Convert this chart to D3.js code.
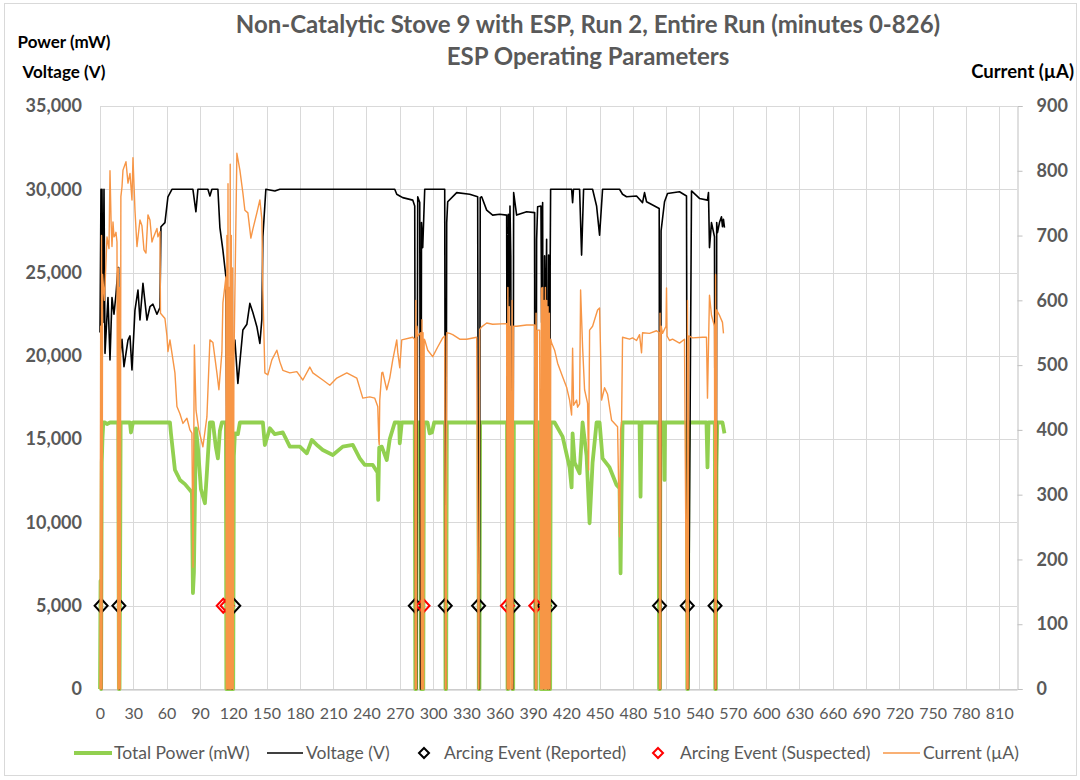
<!DOCTYPE html>
<html>
<head>
<meta charset="utf-8">
<script src="https://cdn.jsdelivr.net/npm/d3@7"></script>
<style>
  body { margin: 0; background: #fff; }
  svg { font-family: Lato, "Open Sans", sans-serif; }
</style>
</head>
<body>
<svg id="chart" width="1080" height="780"></svg>
<script>
// minutes, mW
var powerData = [
  [0, 0], [0.5, 6500], [1, 0], [1.6, 13600], [2.2, 15000], [3, 16000], [4.5, 16000], [6.3, 15900], [9, 16000],
  [16.5, 16000], [17, 0], [17.6, 0], [18.2, 8300], [18.6, 16000], [27, 16000], [27.9, 15400], [29.7, 16000],
  [63, 16000], [63.9, 15350], [67.5, 13150], [70.2, 12800], [72, 12550], [76.5, 12300], [81, 11950], [82.8, 11800],
  [83.7, 5760], [84.6, 7000], [86.4, 15650], [88.2, 14500], [90.9, 12000], [94.5, 11150], [96.3, 13000], [99, 16000],
  [101.7, 16000], [104.4, 14500], [106.2, 13850], [108, 15500], [109.8, 16000], [113.4, 16000],
  [113.8, 0], [114.5, 0], [115, 12000], [115.5, 0], [116.5, 0], [117, 14000], [117.5, 0], [119, 0], [119.6, 5000],
  [120, 0], [120.6, 14000], [121.5, 15350], [124.2, 15300], [126, 16000], [146.7, 16000], [148.5, 14650],
  [153, 15650], [157.5, 15300], [164.7, 15400], [171, 14550], [180, 14550], [186.3, 14150], [190.8, 14950],
  [196.2, 14600], [200.7, 14350], [209.7, 14050], [218.7, 14550], [227.7, 14650], [234, 13850], [238.5, 13450],
  [245.7, 13450], [250, 13000], [250.6, 11350], [251.5, 14500], [253.8, 14550], [258.3, 13750], [261, 15000],
  [265.5, 16000], [269.5, 16000], [270, 14750], [271.8, 16000], [283.5, 16000], [284, 0], [284.8, 0], [285.4, 16000],
  [288.6, 16000], [289.2, 0], [290, 0], [290.6, 10000], [291.2, 0], [291.8, 16000], [295, 16000], [297, 15350],
  [299, 15400], [301, 16000], [310.8, 16000], [311.2, 0], [311.8, 0], [312.4, 16000], [340.8, 16000], [341.2, 0],
  [341.8, 0], [342.4, 16000], [366.6, 16000], [367.1, 0], [367.7, 0], [368.2, 16000], [371.2, 16000], [371.6, 0],
  [372.2, 0], [372.8, 16000], [391.8, 16000], [392.3, 0], [393, 0], [393.5, 16000], [396.5, 16000], [397, 0],
  [398, 13000], [399, 0], [400.5, 0], [401, 16000], [402, 0], [403, 15000], [404, 0], [405.5, 0], [406, 16000],
  [409.5, 16000], [416.7, 15150], [423, 13300], [424.8, 12100], [425.7, 15350], [427.5, 13600], [432, 12950],
  [434.7, 16000], [438.3, 14000], [441, 9950], [443.7, 13600], [447.3, 16000], [450, 16000], [452.7, 13850],
  [459, 13300], [465.3, 12250], [468, 12050], [468.9, 6950], [469.8, 12000], [470.7, 16000], [486, 16000],
  [486.9, 11550], [487.8, 16000], [503.1, 16000], [503.6, 0], [504.3, 0], [504.8, 16000], [508, 16000],
  [508.5, 12550], [509, 16000], [528.6, 16000], [529, 0], [529.6, 0], [530, 14000], [530.6, 16000],
  [546.3, 16000], [547.2, 13300], [548.1, 16000], [553.8, 16000], [554.2, 0], [554.8, 0], [555.3, 13300],
  [556, 16000], [560.7, 16000], [562.5, 15350]
];

// minutes, V
var voltageData = [
  [0, 21400], [0.9, 30000], [1.35, 0], [1.8, 30000], [2.7, 22000], [3.6, 30000], [4.5, 20150], [7.2, 23500],
  [9, 19750], [10.8, 23500], [12.6, 22500], [14.4, 23700], [16.2, 25300], [16.8, 25300], [17.1, 0], [17.5, 0],
  [18, 20000], [19.8, 21000], [21.6, 19350], [25.2, 20950], [27, 21200], [28.8, 19150], [31.5, 22750],
  [34.2, 23950], [36, 22150], [38.7, 24350], [42.3, 22150], [45, 22950], [47.7, 23100], [51.3, 22500],
  [54, 22900], [54.9, 27750], [58.5, 28000], [61.2, 29550], [64.8, 30000], [83.7, 30000], [86.4, 28650],
  [88.2, 30000], [97.2, 30000], [99, 29600], [100.8, 30000], [106.2, 30000], [108, 27700], [110.7, 26350],
  [113.4, 24750], [114, 17000], [114.5, 0], [115, 20000], [115.5, 0], [116, 16000], [116.5, 14500], [117, 0],
  [117.5, 22000], [118, 18000], [118.6, 0], [119.2, 0], [119.8, 20000], [121.5, 20950], [124.2, 18350],
  [128.7, 21550], [132.3, 21900], [135, 23150], [137.7, 22600], [141.3, 21750], [144, 20750], [145.8, 22200],
  [146.7, 27150], [149.4, 30000], [157.5, 29900], [162, 30000], [180, 30000], [216, 30000], [252, 30000],
  [265.5, 30000], [267.3, 29700], [270, 29600], [272.7, 29500], [281.7, 29350], [283.5, 29000], [284.4, 0],
  [285.1, 0], [286.2, 29550], [288, 29200], [288.9, 0], [289.6, 28000], [290.7, 26500], [292.5, 30000],
  [310.5, 30000], [311.4, 0], [312.3, 28000], [313.2, 29250], [321.3, 29800], [333, 29700], [340.2, 29550],
  [341.1, 0], [341.7, 0], [342.5, 29500], [343.8, 29550], [348.3, 28750], [353.7, 28450], [360, 28500],
  [366.3, 28450], [367.2, 0], [367.8, 28500], [368.5, 23000], [369.3, 29000], [370, 26000], [371, 0],
  [371.8, 0], [372.6, 29800], [375.3, 28450], [384.3, 28650], [391.5, 28600], [392.4, 0], [393.3, 27000],
  [394.2, 28950], [397.2, 29000], [397.8, 22000], [398.7, 29200], [399.6, 0], [400.5, 26000], [401.4, 20000],
  [402.3, 27000], [403.2, 0], [404.1, 26050], [405, 0], [405.5, 25500], [405.9, 30000], [424.8, 30000],
  [425.7, 29200], [426.5, 30000], [432, 30000], [433.8, 26050], [435.6, 30000], [443.7, 30000], [447.3, 29000],
  [450, 27250], [452.7, 30000], [468, 30000], [470.7, 29700], [474.3, 29550], [483.3, 29600], [488.7, 29200],
  [490.5, 29800], [492.3, 29250], [499.5, 29000], [503.7, 28850], [504.2, 0], [504.8, 0], [505.4, 27500],
  [508.5, 29250], [511.2, 29750], [522, 29850], [528.3, 29600], [529.2, 0], [530, 0], [532.8, 29900],
  [540, 29450], [547.2, 29350], [548.1, 29800], [549, 26500], [550.8, 28000], [553.5, 27150], [554.4, 0],
  [555, 0], [555.5, 28000], [556.2, 27400], [558, 28000], [559.8, 28350], [560.7, 27750], [561.6, 28200],
  [562.5, 27700]
];

// minutes, µA
var currentData = [
  [0, 0], [0.6, 560], [1, 0], [1.4, 700], [1.8, 0], [2.3, 640], [4, 600], [6.3, 698], [8.1, 680], [9, 800],
  [10, 720], [10.8, 683], [11.7, 721], [12.6, 698], [13.5, 700], [14.4, 705], [15.3, 690], [16.2, 0],
  [16.6, 650], [17.1, 0], [17.6, 620], [18.2, 0], [18.8, 760], [19.8, 775], [20.7, 801], [23.4, 814],
  [25.2, 781], [27, 796], [28.8, 755], [29.7, 820], [31.5, 739], [33.3, 683], [36, 724], [37.8, 715],
  [39.6, 678], [41.4, 673], [43.2, 732], [45, 724], [46.8, 690], [47.7, 695], [51.3, 711], [52.2, 698],
  [54, 706], [54.5, 580], [58.5, 572], [60.3, 545], [61.2, 521], [63, 539], [67.5, 488], [69.3, 436],
  [72, 425], [74.7, 410], [78.3, 418], [81, 400], [82.8, 395], [83.8, 188], [85, 531], [86.5, 430],
  [89, 400], [92.7, 374], [96.3, 420], [99, 539], [101.7, 535], [105.3, 488], [107.1, 462], [109.8, 520],
  [110.7, 596], [113.4, 636], [113.8, 0], [114.3, 700], [114.8, 0], [115.3, 780], [115.8, 0], [116.3, 620],
  [116.8, 0], [117.3, 810], [117.8, 0], [118.3, 700], [118.8, 0], [119.5, 650], [120, 0], [120.6, 500],
  [123.3, 827], [126, 801], [128.7, 766], [130.5, 739], [133.2, 735], [135.9, 696], [137.7, 710],
  [141.3, 735], [144, 755], [145.8, 725], [146.7, 616], [148.5, 488], [151.2, 485], [154.8, 508],
  [159.3, 523], [162, 505], [164.7, 492], [171, 488], [177.3, 490], [182.7, 477], [189, 497], [191.7, 488],
  [200.7, 477], [207, 469], [213.3, 480], [222.3, 488], [231.3, 480], [236.7, 449], [243, 451], [247.5, 449],
  [250.2, 436], [251.1, 384], [251.5, 377], [252, 446], [253.8, 488], [254.7, 489], [258.3, 462], [261, 480],
  [263.7, 508], [267.3, 539], [268.2, 520], [270, 496], [271.8, 539], [281.7, 543], [283.5, 540], [284, 0],
  [284.5, 600], [285, 0], [285.5, 560], [286.2, 545], [288.9, 550], [289.5, 0], [290, 570], [290.5, 0],
  [291, 550], [291.5, 0], [292, 540], [292.5, 539], [295.2, 523], [299.7, 513], [304.2, 528], [308.7, 542],
  [310.5, 545], [311.2, 0], [311.8, 0], [312.4, 550], [315, 549], [317.7, 547], [324, 540], [330.3, 540],
  [339.3, 543], [340.8, 0], [341.4, 0], [342, 555], [343.8, 559], [348.3, 565], [353.7, 563], [366.3, 564],
  [366.8, 0], [367.4, 620], [367.9, 0], [368.5, 590], [369, 0], [369.6, 560], [370.5, 0], [371.2, 600],
  [371.8, 0], [372.5, 560], [375.3, 560], [384.3, 562], [391.5, 562], [392.2, 0], [392.8, 580], [393.4, 0],
  [394, 554], [396, 554], [397, 0], [397.6, 619], [398.2, 0], [398.8, 620], [399.4, 0], [400, 600],
  [400.6, 0], [401.2, 620], [401.8, 0], [402.4, 600], [403, 0], [403.6, 590], [404.2, 0], [404.8, 580],
  [405.4, 0], [406, 540], [406.8, 534], [409.5, 523], [412.2, 503], [416.7, 482], [420.3, 466], [423, 446],
  [424.8, 423], [425.7, 526], [426.6, 438], [429.3, 446], [430.2, 435], [432, 440], [432.9, 616], [434.7, 528],
  [436.5, 462], [439.2, 441], [440.1, 338], [441, 554], [443.7, 560], [445.5, 570], [448.2, 585], [450, 588],
  [450.9, 520], [451.8, 446], [454.5, 465], [457.2, 455], [460.8, 415], [463.5, 410], [466.2, 405], [468, 235],
  [468.9, 400], [469.8, 410], [470.7, 543], [477, 540], [479.7, 542], [483.3, 538], [486, 547], [487.8, 519],
  [488.7, 550], [495, 549], [501.3, 553], [503.6, 550], [504, 0], [504.5, 580], [505, 0], [505.5, 560],
  [506.7, 549], [509.8, 560], [510.3, 619], [510.8, 545], [513, 538], [515.7, 540], [522, 534], [526.5, 540],
  [528.6, 0], [529.2, 600], [529.8, 0], [530.4, 545], [533.7, 542], [542.7, 543], [546.3, 543], [547.2, 449],
  [549, 608], [550.8, 577], [553.5, 560], [554, 0], [554.5, 640], [555, 0], [555.5, 585], [558, 577],
  [560.7, 566], [561.6, 549]
];

var reportedEvents = [1, 17, 120.5, 284, 311, 341, 372, 400, 405, 504, 529, 554];
var suspectedEvents = [111, 114.5, 291, 367, 392.5];
var eventLevel = 5000;

var xTicks = [0, 30, 60, 90, 120, 150, 180, 210, 240, 270, 300, 330, 360, 390, 420, 450, 480, 510, 540, 570, 600, 630, 660, 690, 720, 750, 780, 810];
var leftTicks = [0, 5000, 10000, 15000, 20000, 25000, 30000, 35000];
var rightTicks = [0, 100, 200, 300, 400, 500, 600, 700, 800, 900];

var svg = d3.select("#chart");
var plotLeft = 100, plotRight = 1017, plotTop = 106, plotBottom = 689;

var x = d3.scaleLinear().domain([0, 826]).range([plotLeft, plotRight]);
var yL = d3.scaleLinear().domain([0, 35000]).range([plotBottom, plotTop]);
var yR = d3.scaleLinear().domain([0, 900]).range([plotBottom, plotTop]);

// chart border
svg.append("rect").attr("x", 4.5).attr("y", 3.5).attr("width", 1072).attr("height", 772)
  .attr("fill", "#fff").attr("stroke", "#d9d9d9");

// grid
var grid = svg.append("g");
grid.selectAll(".h").data(leftTicks).enter().append("line")
  .attr("x1", plotLeft).attr("x2", plotRight)
  .attr("y1", function(d) { return Math.round(yL(d)) + 0.5; })
  .attr("y2", function(d) { return Math.round(yL(d)) + 0.5; })
  .attr("stroke", "#d9d9d9");
grid.selectAll(".v").data(xTicks).enter().append("line")
  .attr("y1", plotTop).attr("y2", plotBottom)
  .attr("x1", function(d) { return Math.round(x(d)) + 0.5; })
  .attr("x2", function(d) { return Math.round(x(d)) + 0.5; })
  .attr("stroke", "#d9d9d9");

// axes
var xAxis = d3.axisBottom(x).tickValues(xTicks).tickSize(0).tickPadding(18);
var gx = svg.append("g").attr("transform", "translate(0," + (plotBottom + 0.5) + ")").call(xAxis);
gx.select(".domain").attr("stroke", "#bfbfbf");
gx.selectAll("text").attr("fill", "#595959").style("font-size", "16px").style("font-family", "Lato");

var yAxisL = d3.axisLeft(yL).tickValues(leftTicks).tickSize(0).tickPadding(18).tickFormat(d3.format(","));
var gl = svg.append("g").attr("transform", "translate(" + plotLeft + ",0)").call(yAxisL);
gl.select(".domain").remove();
gl.selectAll("text").attr("fill", "#595959").style("font-size", "18px").style("font-weight", "bold").style("font-family", "Lato");

var yAxisR = d3.axisRight(yR).tickValues(rightTicks).tickSize(5).tickPadding(14);
var gr = svg.append("g").attr("transform", "translate(" + (plotRight + 0.5) + ",0)").call(yAxisR);
gr.select(".domain").attr("stroke", "#bfbfbf");
gr.selectAll("line").attr("stroke", "#bfbfbf");
gr.selectAll("text").attr("fill", "#595959").style("font-size", "18px").style("font-weight", "bold").style("font-family", "Lato");

// series
var lineL = d3.line().x(function(d) { return x(d[0]); }).y(function(d) { return yL(d[1]); });
var lineR = d3.line().x(function(d) { return x(d[0]); }).y(function(d) { return yR(d[1]); });

svg.append("path").datum(powerData).attr("d", lineL)
  .attr("fill", "none").attr("stroke", "#92d050").attr("stroke-width", 3.8).attr("stroke-linejoin", "round");
svg.append("path").datum(voltageData).attr("d", lineL)
  .attr("fill", "none").attr("stroke", "#000").attr("stroke-width", 1.6).attr("stroke-linejoin", "round");

var diamond = "M0,-7L6.5,0L0,7L-6.5,0Z";
svg.selectAll(".rep").data(reportedEvents).enter().append("path")
  .attr("d", diamond)
  .attr("transform", function(d) { return "translate(" + x(d) + "," + yL(eventLevel) + ")"; })
  .attr("fill", "none").attr("stroke", "#000").attr("stroke-width", 2);
svg.selectAll(".sus").data(suspectedEvents).enter().append("path")
  .attr("d", diamond)
  .attr("transform", function(d) { return "translate(" + x(d) + "," + yL(eventLevel) + ")"; })
  .attr("fill", "none").attr("stroke", "#ff0000").attr("stroke-width", 2);

svg.append("path").datum(currentData).attr("d", lineR)
  .attr("fill", "none").attr("stroke", "#f79646").attr("stroke-width", 1.4).attr("stroke-linejoin", "round");

// titles
svg.append("text").attr("x", 588).attr("y", 33).attr("text-anchor", "middle")
  .attr("fill", "#595959").style("font-size", "24px").style("font-weight", "bold")
  .text("Non-Catalytic Stove 9 with ESP, Run 2, Entire Run (minutes 0-826)");
svg.append("text").attr("x", 588).attr("y", 65).attr("text-anchor", "middle")
  .attr("fill", "#595959").style("font-size", "24px").style("font-weight", "bold")
  .text("ESP Operating Parameters");

svg.append("text").attr("x", 64).attr("y", 48).attr("text-anchor", "middle")
  .style("font-size", "17px").style("font-weight", "bold").text("Power (mW)");
svg.append("text").attr("x", 64).attr("y", 78).attr("text-anchor", "middle")
  .style("font-size", "17px").style("font-weight", "bold").text("Voltage (V)");
svg.append("text").attr("x", 1074).attr("y", 78).attr("text-anchor", "end")
  .style("font-size", "18.5px").style("font-weight", "bold").text("Current (µA)");

// legend
var ly = 753;
var legend = svg.append("g").style("font-size", "17.5px").attr("fill", "#595959");
legend.append("line").attr("x1", 74).attr("x2", 112).attr("y1", ly).attr("y2", ly)
  .attr("stroke", "#92d050").attr("stroke-width", 4);
legend.append("text").attr("x", 114).attr("y", ly + 6).text("Total Power (mW)");
legend.append("line").attr("x1", 267).attr("x2", 303).attr("y1", ly).attr("y2", ly)
  .attr("stroke", "#000").attr("stroke-width", 1.6);
legend.append("text").attr("x", 306).attr("y", ly + 6).text("Voltage (V)");
legend.append("path").attr("d", "M0,-5L5,0L0,5L-5,0Z").attr("transform", "translate(424," + ly + ")")
  .attr("fill", "none").attr("stroke", "#000").attr("stroke-width", 2);
legend.append("text").attr("x", 444).attr("y", ly + 6).text("Arcing Event (Reported)");
legend.append("path").attr("d", "M0,-5L5,0L0,5L-5,0Z").attr("transform", "translate(658," + ly + ")")
  .attr("fill", "none").attr("stroke", "#ff0000").attr("stroke-width", 2);
legend.append("text").attr("x", 680).attr("y", ly + 6).text("Arcing Event (Suspected)");
legend.append("line").attr("x1", 883).attr("x2", 920).attr("y1", ly).attr("y2", ly)
  .attr("stroke", "#f79646").attr("stroke-width", 1.6);
legend.append("text").attr("x", 923).attr("y", ly + 6).text("Current (µA)");
</script>
</body>
</html>
